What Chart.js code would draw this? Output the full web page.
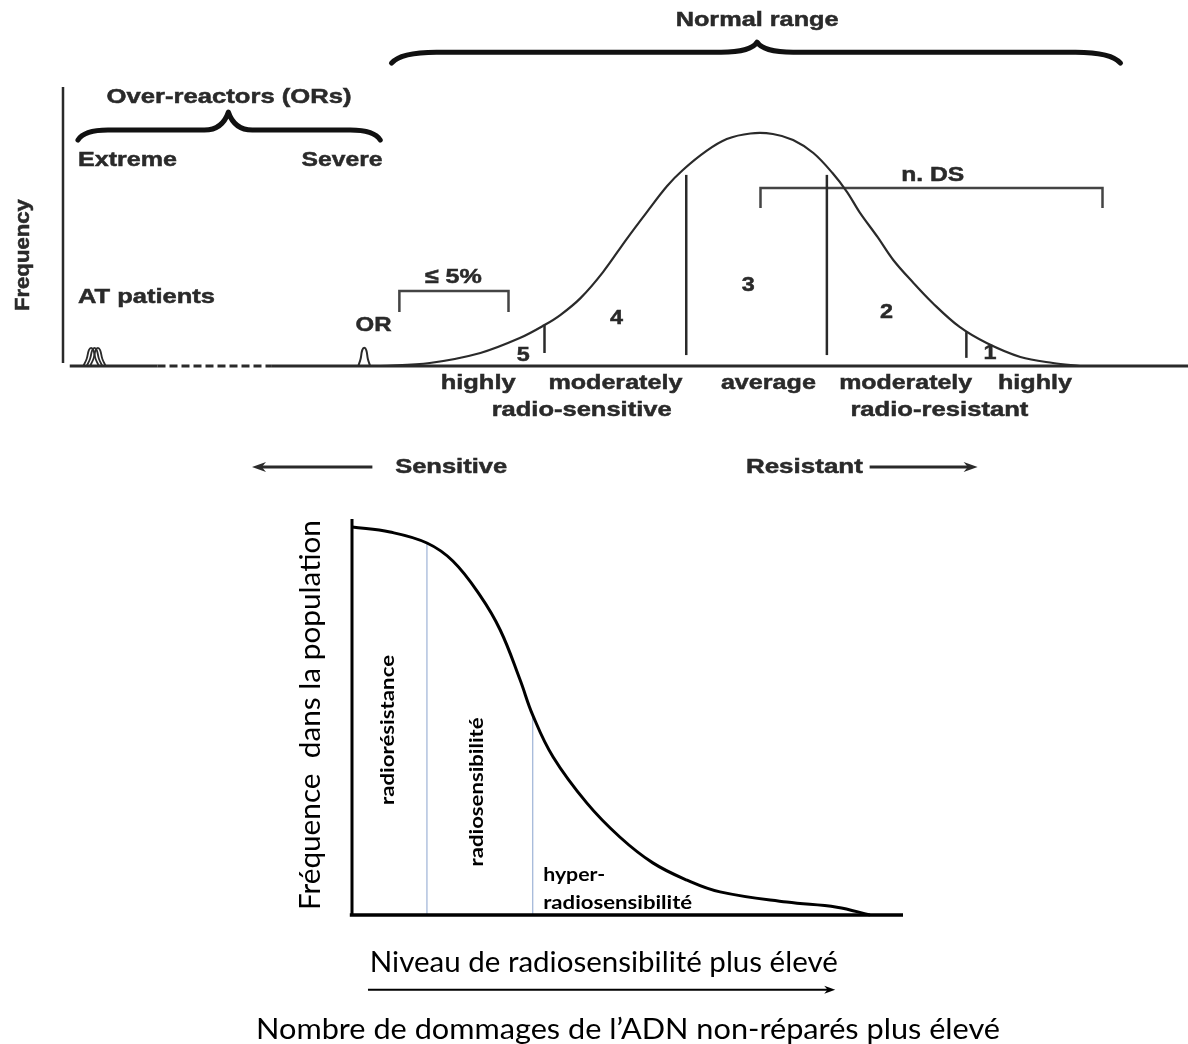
<!DOCTYPE html>
<html>
<head>
<meta charset="utf-8">
<script src="https://cdn.jsdelivr.net/npm/chart.js@4"></script>
<style>
  body { margin: 0; background: #fff; }
  #top, #bottom { position: absolute; left: 0; }
  #top { top: 0; }
  #bottom { top: 500px; }
</style>
</head>
<body>
<canvas id="top" width="1188" height="500"></canvas>
<canvas id="bottom" width="1188" height="544"></canvas>
<script>
// --- top chart: radiosensitivity distribution (x = sensitivity units, y = relative frequency)
const bellX = [28.2, 32.6, 37.1, 40.6, 42.8, 44.2, 46.0, 48.0, 50.1, 51.9, 53.7, 55.1, 57.2, 59.0, 61.1, 63.1, 64.9, 66.7, 68.4, 69.7, 70.8, 72.4, 73.8, 75.6, 77.3, 79.7, 82.1, 85.1, 88.0, 90.4];
const bellY = [0.0, 0.013, 0.056, 0.12, 0.176, 0.219, 0.292, 0.404, 0.546, 0.662, 0.774, 0.843, 0.925, 0.976, 1.0, 0.998, 0.972, 0.916, 0.83, 0.748, 0.662, 0.555, 0.456, 0.357, 0.271, 0.168, 0.099, 0.039, 0.013, 0.0];

// baseline: solid, dashed gap, solid
const baseX = [0.6, 8.4, 18.5, 100];

// small peaks (AT patients, OR)
const atPeaksX = [
    [1.8, 2.1, 2.3, 2.5, 2.7, 2.9, 3.2],
    [2.1, 2.4, 2.6, 2.8, 3.0, 3.2, 3.5],
    [2.4, 2.7, 2.9, 3.1, 3.3, 3.5, 3.8]
];
const orPeakX = [26.25, 26.45, 26.6, 26.78, 26.96, 27.1, 27.3];
const peakY = [0, 0.03, 0.068, 0.078, 0.068, 0.03, 0];

// class dividers under the curve
const dividerX = [42.8, 55.4, 67.9, 80.3];
const dividerLow = [0.056, 0.047, 0.047, 0.035];
const dividerHigh = [0.176, 0.822, 0.822, 0.146];

// brackets: <= 5% and n. DS
const pctBracketX = [29.9, 29.9, 39.6, 39.6];
const pctBracketY = [0.232, 0.323, 0.323, 0.232];
const dsBracketX = [62.0, 62.0, 92.4, 92.4];
const dsBracketY = [0.68, 0.766, 0.766, 0.68];

const classNumbers = ['5', '4', '3', '2', '1'];
const classNumberX = [40.9, 49.2, 60.9, 73.2, 82.4];
const classNumberY = [0.047, 0.206, 0.348, 0.232, 0.056];

// --- bottom chart: frequency vs. unrepaired DNA damage
const sigX = [0, 6.9, 13.6, 18.3, 23.2, 26.9, 30.5, 32.8, 36.5, 42.6, 48.6, 54.6, 60.8, 66.8, 78.9, 88.0, 94.0];
const sigY = [0.99, 0.977, 0.949, 0.903, 0.816, 0.727, 0.6, 0.51, 0.403, 0.286, 0.199, 0.133, 0.089, 0.059, 0.033, 0.02, 0.0];
const zoneX = [13.6, 32.8];
const zoneTop = [0.949, 0.51];

const pts = (xs, ys) => xs.map((x, i) => ({ x: x, y: Array.isArray(ys) ? ys[i] : ys }));

const TOPFONT = 'bold 21px "Liberation Sans", Arial, sans-serif';
const INK = '#2a2a2a';

function label(ctx, text, x, y, o) {
    ctx.save();
    ctx.font = o.font;
    ctx.fillStyle = o.color || INK;
    ctx.textAlign = o.align || 'center';
    ctx.textBaseline = 'middle';
    ctx.translate(x, y);
    if (o.rotate) ctx.rotate(o.rotate);
    if (o.width) {
        let w = ctx.measureText(text).width;
        ctx.scale(o.width / w, 1);
    }
    ctx.fillText(text, 0, 0);
    if (o.heavy) {
        ctx.strokeStyle = o.color || INK;
        ctx.lineWidth = o.heavy;
        ctx.strokeText(text, 0, 0);
    }
    ctx.restore();
}

function arrow(ctx, x1, x2, y, lw, head, half, color) {
    let dir = x2 > x1 ? 1 : -1;
    ctx.save();
    ctx.strokeStyle = color;
    ctx.fillStyle = color;
    ctx.lineWidth = lw;
    ctx.beginPath();
    ctx.moveTo(x1, y);
    ctx.lineTo(x2 - dir * head * 0.6, y);
    ctx.stroke();
    ctx.beginPath();
    ctx.moveTo(x2, y);
    ctx.lineTo(x2 - dir * head, y - half);
    ctx.lineTo(x2 - dir * head * 0.7, y);
    ctx.lineTo(x2 - dir * head, y + half);
    ctx.closePath();
    ctx.fill();
    ctx.restore();
}

function brace(ctx, x1, x2, xt, yEnd, yMid, yTip, curl) {
    ctx.save();
    ctx.strokeStyle = '#111';
    ctx.lineWidth = 5;
    ctx.lineCap = 'round';
    ctx.lineJoin = 'round';
    ctx.beginPath();
    ctx.moveTo(x1, yEnd);
    ctx.quadraticCurveTo(x1 + curl * 0.2, yMid, x1 + curl, yMid);
    ctx.lineTo(xt - curl * 0.8, yMid);
    ctx.quadraticCurveTo(xt - 6, yMid, xt, yTip);
    ctx.quadraticCurveTo(xt + 6, yMid, xt + curl * 0.8, yMid);
    ctx.lineTo(x2 - curl, yMid);
    ctx.quadraticCurveTo(x2 - curl * 0.2, yMid, x2, yEnd);
    ctx.stroke();
    ctx.restore();
}

const topAnnotations = {
    id: 'topAnnotations',
    afterDatasetsDraw(chart) {
        const ctx = chart.ctx;
        const X = v => chart.scales.x.getPixelForValue(v);
        const Y = v => chart.scales.y.getPixelForValue(v);

        // frequency axis
        ctx.save();
        ctx.strokeStyle = INK;
        ctx.lineWidth = 2.5;
        ctx.beginPath();
        ctx.moveTo(X(0), Y(0.013));
        ctx.lineTo(X(0), Y(1.2));
        ctx.stroke();
        ctx.restore();

        // braces
        brace(ctx, X(29.2), X(94.0), X(61.7), Y(1.303), Y(1.35), Y(1.393), 45);
        brace(ctx, X(1.33), X(28.2), X(14.7), Y(0.972), Y(1.015), Y(1.092), 30);

        const t = (text, x, y, w, extra) => label(ctx, text, X(x), Y(y), Object.assign({ font: TOPFONT, width: w, heavy: 0.5 }, extra || {}));
        t('Normal range', 61.7, 1.488, 163);
        t('Over-reactors (ORs)', 14.76, 1.157, 245);
        t('Extreme', 1.33, 0.886, 99, { align: 'left' });
        t('Severe', 28.4, 0.886, 81, { align: 'right' });
        t('AT patients', 1.33, 0.297, 137, { align: 'left' });
        t('OR', 27.6, 0.176, 36);
        t('\u2264 5%', 34.7, 0.383, 57);
        t('n. DS', 77.3, 0.822, 63);
        t('Frequency', -3.56, 0.477, 112, { rotate: -Math.PI / 2 });

        classNumbers.forEach((n, i) => t(n, classNumberX[i], classNumberY[i], 13));

        t('highly', 36.9, -0.073, 75);
        t('moderately', 49.1, -0.073, 134);
        t('radio-sensitive', 46.1, -0.189, 180);
        t('average', 62.7, -0.073, 95);
        t('moderately', 74.9, -0.073, 133);
        t('highly', 86.4, -0.073, 74);
        t('radio-resistant', 77.9, -0.189, 178);

        t('Sensitive', 34.5, -0.434, 112);
        t('Resistant', 65.9, -0.434, 117);
        arrow(ctx, X(27.5), X(16.8), Y(-0.434), 3, 14, 5, INK);
        arrow(ctx, X(71.7), X(81.3), Y(-0.434), 3, 14, 5, INK);
    }
};

const line = (data, extra) => Object.assign({
    data: data,
    borderColor: INK,
    borderWidth: 2.5,
    pointRadius: 0,
    tension: 0,
    fill: false,
    clip: false
}, extra || {});

const topDatasets = [
    line(pts(bellX, bellY), { borderWidth: 2.2, tension: 0.35 }),
    line(pts(baseX, 0), {
        borderWidth: 2.8,
        segment: { borderDash: c => c.p0DataIndex === 1 ? [8, 4] : undefined }
    }),
    ...atPeaksX.map(xs => line(pts(xs, peakY), { borderWidth: 1.8, tension: 0.4 })),
    line(pts(orPeakX, peakY), { borderWidth: 2, tension: 0.4 }),
    ...dividerX.map((x, i) => line(pts([x, x], [dividerLow[i], dividerHigh[i]]))),
    line(pts(pctBracketX, pctBracketY), { borderColor: '#444' }),
    line(pts(dsBracketX, dsBracketY), { borderColor: '#444' })
];

new Chart(document.getElementById('top').getContext('2d'), {
    type: 'line',
    data: { datasets: topDatasets },
    options: {
        responsive: false,
        animation: false,
        devicePixelRatio: 1,
        layout: { padding: { left: 63, top: 87, right: 0, bottom: 134 } },
        plugins: { legend: { display: false }, tooltip: { enabled: false } },
        scales: {
            x: { type: 'linear', min: 0, max: 100, display: false },
            y: { min: 0, max: 1.2, display: false }
        }
    },
    plugins: [topAnnotations]
});

const bottomAnnotations = {
    id: 'bottomAnnotations',
    afterDatasetsDraw(chart) {
        const ctx = chart.ctx;
        const X = v => chart.scales.x.getPixelForValue(v);
        const Y = v => chart.scales.y.getPixelForValue(v);

        ctx.save();
        ctx.strokeStyle = '#000';
        ctx.lineWidth = 3;
        ctx.beginPath();
        ctx.moveTo(X(0), Y(1.01));
        ctx.lineTo(X(0), Y(0));
        ctx.stroke();
        ctx.lineWidth = 3.5;
        ctx.beginPath();
        ctx.moveTo(X(-0.4), Y(0));
        ctx.lineTo(X(100), Y(0));
        ctx.stroke();
        ctx.restore();

        const lf = '28px Lato, "Open Sans", sans-serif';
        const bf = 'bold 19px Lato, "Open Sans", sans-serif';
        label(ctx, 'Fr\u00e9quence  dans la population', X(-7.4), Y(0.51), { font: lf, width: 390, rotate: -Math.PI / 2, color: '#000' });
        label(ctx, 'Niveau de radiosensibilit\u00e9 plus \u00e9lev\u00e9', X(45.7), Y(-0.122), { font: lf, width: 468, color: '#000' });
        label(ctx, 'Nombre de dommages de l\u2019ADN non-r\u00e9par\u00e9s plus \u00e9lev\u00e9', X(50.1), Y(-0.293), { font: lf, width: 744, color: '#000' });
        arrow(ctx, X(2.9), X(87.7), Y(-0.191), 2, 11, 4, '#000');

        label(ctx, 'radior\u00e9sistance', X(6.5), Y(0.472), { font: bf, width: 150, rotate: -Math.PI / 2, color: '#000' });
        label(ctx, 'radiosensibilit\u00e9', X(22.7), Y(0.314), { font: bf, width: 149, rotate: -Math.PI / 2, color: '#000' });
        label(ctx, 'hyper-', X(34.7), Y(0.102), { font: bf, width: 62, align: 'left', color: '#000' });
        label(ctx, 'radiosensibilit\u00e9', X(34.7), Y(0.031), { font: bf, width: 149, align: 'left', color: '#000' });
    }
};

new Chart(document.getElementById('bottom').getContext('2d'), {
    type: 'line',
    data: {
        datasets: [
            line(pts(sigX, sigY), { borderColor: '#000', borderWidth: 3, tension: 0.4 }),
            ...zoneX.map((x, i) => line(pts([x, x], [0, zoneTop[i]]), { borderColor: '#9db3d6', borderWidth: 1.2 }))
        ]
    },
    options: {
        responsive: false,
        animation: false,
        devicePixelRatio: 1,
        layout: { padding: { left: 352, top: 23, right: 285, bottom: 129 } },
        plugins: { legend: { display: false }, tooltip: { enabled: false } },
        scales: {
            x: { type: 'linear', min: 0, max: 100, display: false },
            y: { min: 0, max: 1, display: false }
        }
    },
    plugins: [bottomAnnotations]
});
</script>
</body>
</html>
